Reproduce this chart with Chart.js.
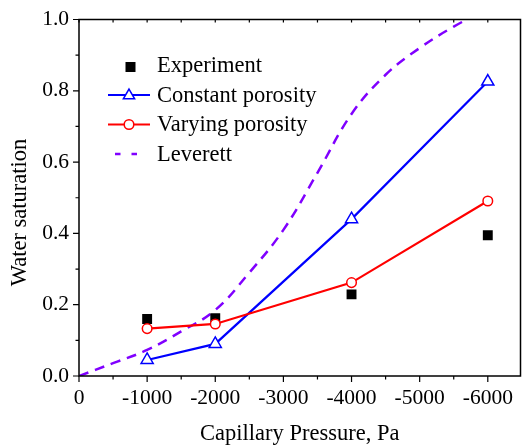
<!DOCTYPE html>
<html><head><meta charset="utf-8">
<script src="https://cdn.jsdelivr.net/npm/chart.js@4.4.0/dist/chart.umd.min.js"></script>
<style>html,body{margin:0;padding:0;background:#fff;} canvas{display:block;}</style>
</head><body>
<canvas id="c" width="522" height="445"></canvas>
<script>
// ---- data ----
const pressures = [-1000, -2000, -4000, -6000];
const experiment = [0.160, 0.162, 0.229, 0.395];
const constantPorosity = [0.045, 0.090, 0.440, 0.826];
const varyingPorosity = [0.133, 0.146, 0.262, 0.491];
const leverettPressures = [0, -500, -1000, -1500, -2000, -2500, -3000, -3500, -4000, -4500, -5000, -5500, -6000];
const leverett = [0, 0.036, 0.073, 0.125, 0.185, 0.290, 0.410, 0.570, 0.735, 0.845, 0.920, 0.980, 1.030];
const seriesLabels = ['Experiment', 'Constant porosity', 'Varying porosity', 'Leverett'];
const xTickValues = [0, -1000, -2000, -3000, -4000, -5000, -6000];
const yTickValues = [0.0, 0.2, 0.4, 0.6, 0.8, 1.0];
const xTitle = 'Capillary Pressure, Pa';
const yTitle = 'Water saturation';

const FONT = 'Liberation Serif';
const pts = (xs, ys) => xs.map((x, i) => ({x: x, y: ys[i]}));

const framePlugin = {
  id: 'frame',
  afterDraw(chart) {
    const ctx = chart.ctx;
    const a = chart.chartArea;
    const xs = chart.scales.x, ys = chart.scales.y;
    ctx.save();
    ctx.strokeStyle = '#000';
    ctx.lineWidth = 1.5;
    ctx.strokeRect(a.left, a.top, a.right - a.left, a.bottom - a.top);
    ctx.lineWidth = 1.2;
    ctx.beginPath();
    for (let v = 0; v >= -6000; v -= 500) {
      const px = xs.getPixelForValue(v);
      const major = v % 1000 === 0;
      ctx.moveTo(px, a.bottom);
      ctx.lineTo(px, a.bottom + (major ? 6 : 3.5));
      ctx.moveTo(px, a.top);
      ctx.lineTo(px, a.top + 3);
    }
    for (let i = 0; i <= 10; i++) {
      const py = ys.getPixelForValue(i / 10);
      const major = i % 2 === 0;
      ctx.moveTo(a.left, py);
      ctx.lineTo(a.left - (major ? 6 : 3.5), py);
    }
    ctx.stroke();

    ctx.fillStyle = '#000';
    ctx.font = '22.5px "' + FONT + '"';
    ctx.textAlign = 'center';
    ctx.textBaseline = 'middle';
    ctx.translate(20.5, 212.5);
    ctx.rotate(-Math.PI / 2);
    ctx.fillText(yTitle, 0, 0);
    ctx.restore();

    const baselines = [71.5, 101.5, 131, 160.5];
    ctx.save();
    ctx.font = '22.5px "' + FONT + '"';
    ctx.textAlign = 'left';
    ctx.textBaseline = 'alphabetic';
    ctx.fillStyle = '#000';
    [0, 1, 2, 3].forEach((di, r) => {
      const ds = chart.data.datasets[di];
      const b = baselines[r];
      const my = b - 6.5;
      ctx.fillText(ds.label, 157, b);
      if (di === 0) {
        ctx.fillStyle = ds.pointBackgroundColor;
        ctx.fillRect(125.5, 62, 10, 10);
        ctx.fillStyle = '#000';
      } else if (di === 3) {
        ctx.save();
        ctx.strokeStyle = ds.borderColor;
        ctx.lineWidth = ds.borderWidth;
        ctx.setLineDash([5.5, 11]);
        ctx.beginPath();
        ctx.moveTo(115, my);
        ctx.lineTo(138, my);
        ctx.stroke();
        ctx.restore();
      } else {
        ctx.save();
        ctx.strokeStyle = ds.borderColor;
        ctx.lineWidth = ds.borderWidth;
        ctx.beginPath();
        ctx.moveTo(108, my);
        ctx.lineTo(150, my);
        ctx.stroke();
        ctx.fillStyle = '#fff';
        ctx.lineWidth = ds.pointBorderWidth;
        ctx.beginPath();
        if (di === 1) {
          const r0 = 6.5;
          for (let k = 0; k < 3; k++) {
            const ang = -Math.PI / 2 + k * 2 * Math.PI / 3;
            const px = 129 + r0 * Math.cos(ang), py = my + 0.5 + r0 * Math.sin(ang);
            if (k === 0) ctx.moveTo(px, py); else ctx.lineTo(px, py);
          }
          ctx.closePath();
        } else {
          ctx.arc(129, my, 4.8, 0, Math.PI * 2);
        }
        ctx.fill();
        ctx.stroke();
        ctx.restore();
      }
    });
    ctx.restore();
  }
};

new Chart(document.getElementById('c'), {
  type: 'line',
  data: {
    datasets: [
      {
        label: seriesLabels[0],
        data: pts(pressures, experiment),
        showLine: false,
        pointStyle: 'rect',
        pointRadius: 7,
        pointBackgroundColor: '#000',
        pointBorderColor: '#000',
        pointBorderWidth: 0,
        order: 4
      },
      {
        label: seriesLabels[1],
        data: pts(pressures, constantPorosity),
        borderColor: '#0000ff',
        borderWidth: 2.2,
        pointStyle: 'triangle',
        pointRadius: 7,
        pointBackgroundColor: '#fff',
        pointBorderColor: '#0000ff',
        pointBorderWidth: 1.5,
        order: 2
      },
      {
        label: seriesLabels[2],
        data: pts(pressures, varyingPorosity),
        borderColor: '#ff0000',
        borderWidth: 2.2,
        pointStyle: 'circle',
        pointRadius: 4.8,
        pointBackgroundColor: '#fff',
        pointBorderColor: '#ff0000',
        pointBorderWidth: 1.5,
        order: 1
      },
      {
        label: seriesLabels[3],
        data: pts(leverettPressures, leverett),
        borderColor: '#8000ff',
        borderWidth: 2.5,
        borderDash: [10, 7],
        pointRadius: 0,
        tension: 0.4,
        order: 5
      }
    ]
  },
  options: {
    responsive: false,
    devicePixelRatio: 1,
    animation: false,
    layout: {autoPadding: false, padding: {top: 19.5, right: 1.5, left: 0, bottom: 0}},
    plugins: {legend: {display: false}, tooltip: {enabled: false}},
    scales: {
      x: {
        type: 'linear',
        reverse: true,
        min: -6480,
        max: 0,
        afterFit: s => { s.height = 69; s.paddingLeft = 0; s.paddingRight = 0; },
        afterBuildTicks: s => { s.ticks = xTickValues.map(v => ({value: v})); },
        grid: {display: false, drawTicks: false},
        border: {display: false},
        ticks: {
          padding: 9,
          color: '#000',
          font: {family: FONT, size: 21.5},
          maxRotation: 0,
          autoSkip: false,
          callback: v => String(v)
        },
        title: {
          display: true,
          text: xTitle,
          color: '#000',
          font: {family: FONT, size: 22.5, lineHeight: 1.0},
          padding: {top: 0, bottom: 0}
        }
      },
      y: {
        type: 'linear',
        min: 0,
        max: 1,
        afterFit: s => { s.width = 79; s.paddingTop = 0; s.paddingBottom = 0; },
        afterBuildTicks: s => { s.ticks = yTickValues.map(v => ({value: v})); },
        grid: {display: false, drawTicks: false},
        border: {display: false},
        ticks: {
          padding: 10,
          color: '#000',
          font: {family: FONT, size: 21.5},
          autoSkip: false,
          callback: v => Number(v).toFixed(1)
        },
        title: {display: false}
      }
    }
  },
  plugins: [framePlugin]
});
</script>
</body></html>
